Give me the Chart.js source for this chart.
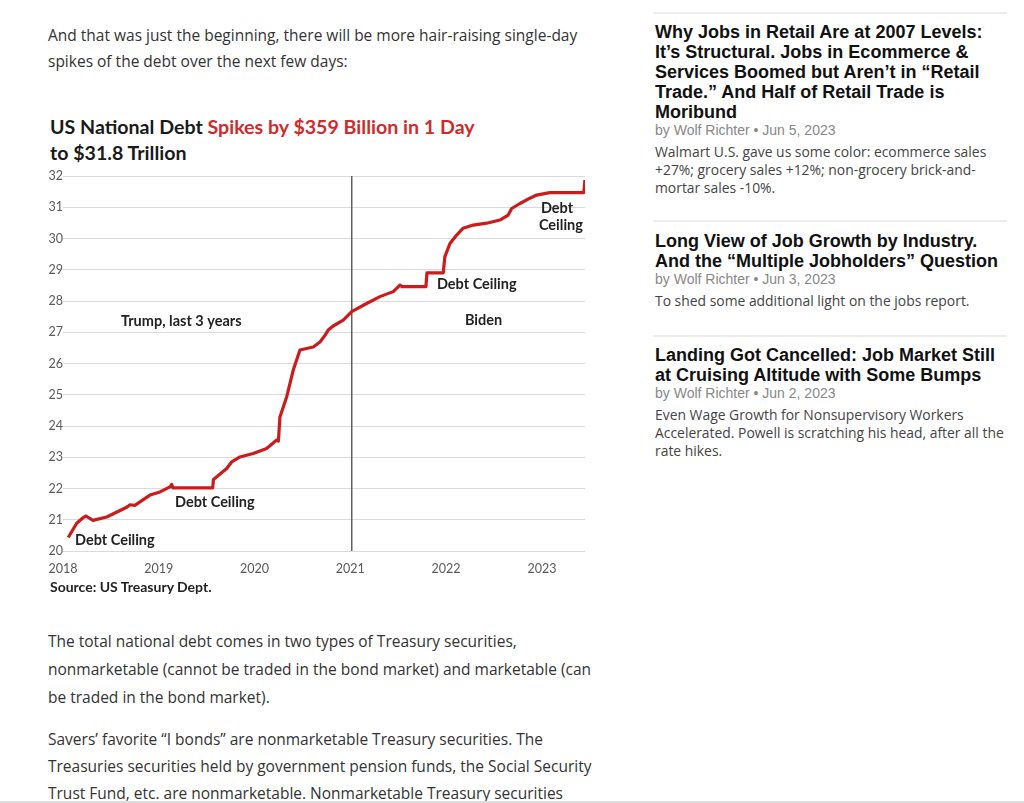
<!DOCTYPE html>
<html>
<head>
<meta charset="utf-8">
<script src="https://cdn.jsdelivr.net/npm/chart.js@4.4.0/dist/chart.umd.min.js"></script>
<style>
    body { margin: 0; background: #fff; width: 1024px; height: 803px; overflow: hidden; position: relative; }
    .txt { position: absolute; font-family: "Open Sans", sans-serif; color: #333; white-space: nowrap; }
    .p1 { left: 48px; top: 22px; font-size: 15.5px; line-height: 26px; }
    .p2 { left: 48px; top: 627px; font-size: 15.5px; line-height: 28px; }
    .p3 { left: 48px; top: 726px; font-size: 15.5px; line-height: 27px; }
    .chart-title { position: absolute; left: 50px; top: 114px; font-family: Lato, sans-serif; font-weight: bold; font-size: 19.6px; line-height: 26px; color: #1a1a1a; white-space: nowrap; }
    .chart-title .red { color: #d22a2a; }
    .chart-box { position: absolute; left: 46px; top: 166px; width: 548px; height: 415px; }
    .source { position: absolute; left: 50px; top: 579px; font-family: Lato, sans-serif; font-weight: bold; font-size: 14px; line-height: 16px; color: #222; }
    .side { position: absolute; left: 655px; width: 360px; }
    .sep { position: absolute; left: 653px; width: 354px; height: 2px; background: #ededed; }
    .side h3 { margin: 0; font-family: "Liberation Sans", Arial, sans-serif; font-weight: bold; font-size: 18px; line-height: 20px; color: #111; white-space: nowrap; }
    .side .by { font-family: "Liberation Sans", Arial, sans-serif; font-size: 14px; line-height: 16px; color: #888; }
    .side .ex { font-family: "Open Sans", sans-serif; font-size: 13.9px; line-height: 18px; color: #444; margin-top: 5px; white-space: nowrap; }
    .bottom-bar { position: absolute; left: 0; top: 801px; width: 1024px; height: 2px; background: #ddd; }
</style>
</head>
<body>

<div class="txt p1">And that was just the beginning, there will be more hair-raising single-day<br>spikes of the debt over the next few days:</div>

<div class="chart-title">US National Debt <span class="red">Spikes by $359 Billion in 1 Day</span><br>to $31.8 Trillion</div>
<div class="chart-box"><canvas id="debtChart" width="548" height="415"></canvas></div>
<div class="source">Source: US Treasury Dept.</div>

<div class="txt p2">The total national debt comes in two types of Treasury securities,<br>nonmarketable (cannot be traded in the bond market) and marketable (can<br>be traded in the bond market).</div>
<div class="txt p3">Savers’ favorite “I bonds” are nonmarketable Treasury securities. The<br>Treasuries securities held by government pension funds, the Social Security<br>Trust Fund, etc. are nonmarketable. Nonmarketable Treasury securities</div>

<div class="sep" style="top:12px"></div>
<div class="side" style="top:22px">
    <h3>Why Jobs in Retail Are at 2007 Levels:<br>It’s Structural. Jobs in Ecommerce &amp;<br>Services Boomed but Aren’t in “Retail<br>Trade.” And Half of Retail Trade is<br>Moribund</h3>
    <div class="by">by Wolf Richter • Jun 5, 2023</div>
    <div class="ex">Walmart U.S. gave us some color: ecommerce sales<br>+27%; grocery sales +12%; non-grocery brick-and-<br>mortar sales -10%.</div>
</div>
<div class="sep" style="top:220px"></div>
<div class="side" style="top:231px">
    <h3>Long View of Job Growth by Industry.<br>And the “Multiple Jobholders” Question</h3>
    <div class="by">by Wolf Richter • Jun 3, 2023</div>
    <div class="ex">To shed some additional light on the jobs report.</div>
</div>
<div class="sep" style="top:335px"></div>
<div class="side" style="top:345px">
    <h3>Landing Got Cancelled: Job Market Still<br>at Cruising Altitude with Some Bumps</h3>
    <div class="by">by Wolf Richter • Jun 2, 2023</div>
    <div class="ex">Even Wage Growth for Nonsupervisory Workers<br>Accelerated. Powell is scratching his head, after all the<br>rate hikes.</div>
</div>
<div class="bottom-bar"></div>

<script>
// debt in trillions of dollars (x = decimal year)
const years = [
    2018.055, 2018.143, 2018.212, 2018.24, 2018.313, 2018.456, 2018.665, 2018.70, 2018.75, 2018.804,
    2018.908, 2019.013, 2019.117, 2019.135, 2019.148, 2019.563, 2019.571, 2019.709, 2019.761, 2019.848,
    2019.986, 2020.126, 2020.231, 2020.249, 2020.265, 2020.335, 2020.404, 2020.474, 2020.544, 2020.613,
    2020.683, 2020.735, 2020.769, 2020.821, 2020.926, 2021.014, 2021.17, 2021.309, 2021.448, 2021.518,
    2021.539, 2021.789, 2021.80, 2021.97, 2021.987, 2022.04, 2022.11, 2022.178, 2022.283, 2022.423,
    2022.562, 2022.648, 2022.684, 2022.771, 2022.875, 2022.945, 2023.083, 2023.438, 2023.449
];
const debtTrillions = [
    20.43, 20.89, 21.07, 21.12, 20.98, 21.09, 21.40, 21.48, 21.46, 21.57,
    21.79, 21.89, 22.05, 22.13, 22.02, 22.02, 22.29, 22.64, 22.85, 23.01,
    23.12, 23.28, 23.55, 23.52, 24.29, 24.93, 25.79, 26.43, 26.48, 26.53,
    26.69, 26.90, 27.07, 27.20, 27.39, 27.66, 27.92, 28.14, 28.30, 28.51,
    28.46, 28.46, 28.90, 28.90, 29.42, 29.84, 30.11, 30.33, 30.43, 30.49,
    30.59, 30.75, 30.96, 31.12, 31.29, 31.39, 31.47, 31.47, 31.87
];

const xTickYears = [2018, 2019, 2020, 2021, 2022, 2023];
const yTickValues = [20, 21, 22, 23, 24, 25, 26, 27, 28, 29, 30, 31, 32];

// Jan 20, 2021 - change of administration
const inaugurationYear = 2021.015;

// text notes, placed in data coordinates (left edge, vertical middle)
const noteTexts  = ["Debt Ceiling", "Debt Ceiling", "Trump, last 3 years", "Debt Ceiling", "Biden", "Debt", "Ceiling"];
const noteYears  = [2018.125, 2019.169, 2018.605, 2021.904, 2022.196, 2022.99, 2022.969];
const noteValues = [20.35, 21.57, 27.36, 28.54, 27.39, 30.98, 30.43];

/* ----------------------------------------
   NOTES + VERTICAL LINE
---------------------------------------- */
const notesPlugin = {
    id: "notes",
    beforeDatasetsDraw(chart) {
        const { ctx, chartArea, scales } = chart;
        const x = scales.x.getPixelForValue(inaugurationYear);
        ctx.save();
        ctx.strokeStyle = "#4a4a4a";
        ctx.lineWidth = 1.3;
        ctx.beginPath();
        ctx.moveTo(x, chartArea.top);
        ctx.lineTo(x, chartArea.bottom);
        ctx.stroke();
        ctx.restore();
    },
    afterDatasetsDraw(chart) {
        const { ctx, scales } = chart;
        ctx.save();
        ctx.font = "bold 14.5px Lato";
        ctx.fillStyle = "#222";
        ctx.textAlign = "left";
        ctx.textBaseline = "middle";
        noteTexts.forEach((t, i) => {
            ctx.fillText(t, scales.x.getPixelForValue(noteYears[i]), scales.y.getPixelForValue(noteValues[i]));
        });
        ctx.restore();
    }
};

const ctx = document.getElementById("debtChart").getContext("2d");

new Chart(ctx, {
    type: "line",
    data: {
        datasets: [{
            label: "US National Debt",
            data: years.map((yr, i) => ({ x: yr, y: debtTrillions[i] })),
            borderColor: "#cc1b1b",
            borderWidth: 3.2,
            borderJoinStyle: "round",
            tension: 0,
            pointRadius: 0,
            fill: false
        }]
    },
    options: {
        responsive: false,
        animation: false,
        devicePixelRatio: 1,
        layout: { padding: { top: 10, right: 9, left: 0, bottom: 0 } },
        plugins: {
            legend: { display: false },
            tooltip: { enabled: false }
        },
        scales: {
            x: {
                type: "linear",
                min: 2018,
                max: 2023.45,
                afterBuildTicks: (scale) => { scale.ticks = xTickYears.map(v => ({ value: v })); },
                afterFit: (scale) => { scale.height = 30; scale.paddingLeft = 0; scale.paddingRight = 0; },
                grid: { display: false, drawTicks: false },
                border: { display: false },
                ticks: {
                    color: "#595959",
                    padding: 10,
                    maxRotation: 0,
                    font: { family: "Lato", size: 12.5 },
                    callback: (value) => String(value)
                }
            },
            y: {
                min: 20,
                max: 32,
                afterBuildTicks: (scale) => { scale.ticks = yTickValues.map(v => ({ value: v })); },
                afterFit: (scale) => { scale.width = 17; },
                grid: { color: "#dadada", lineWidth: 1, drawTicks: false },
                border: { display: false },
                ticks: {
                    color: "#595959",
                    padding: 0,
                    font: { family: "Lato", size: 12.5 }
                }
            }
        }
    },
    plugins: [notesPlugin]
});
</script>
</body>
</html>
